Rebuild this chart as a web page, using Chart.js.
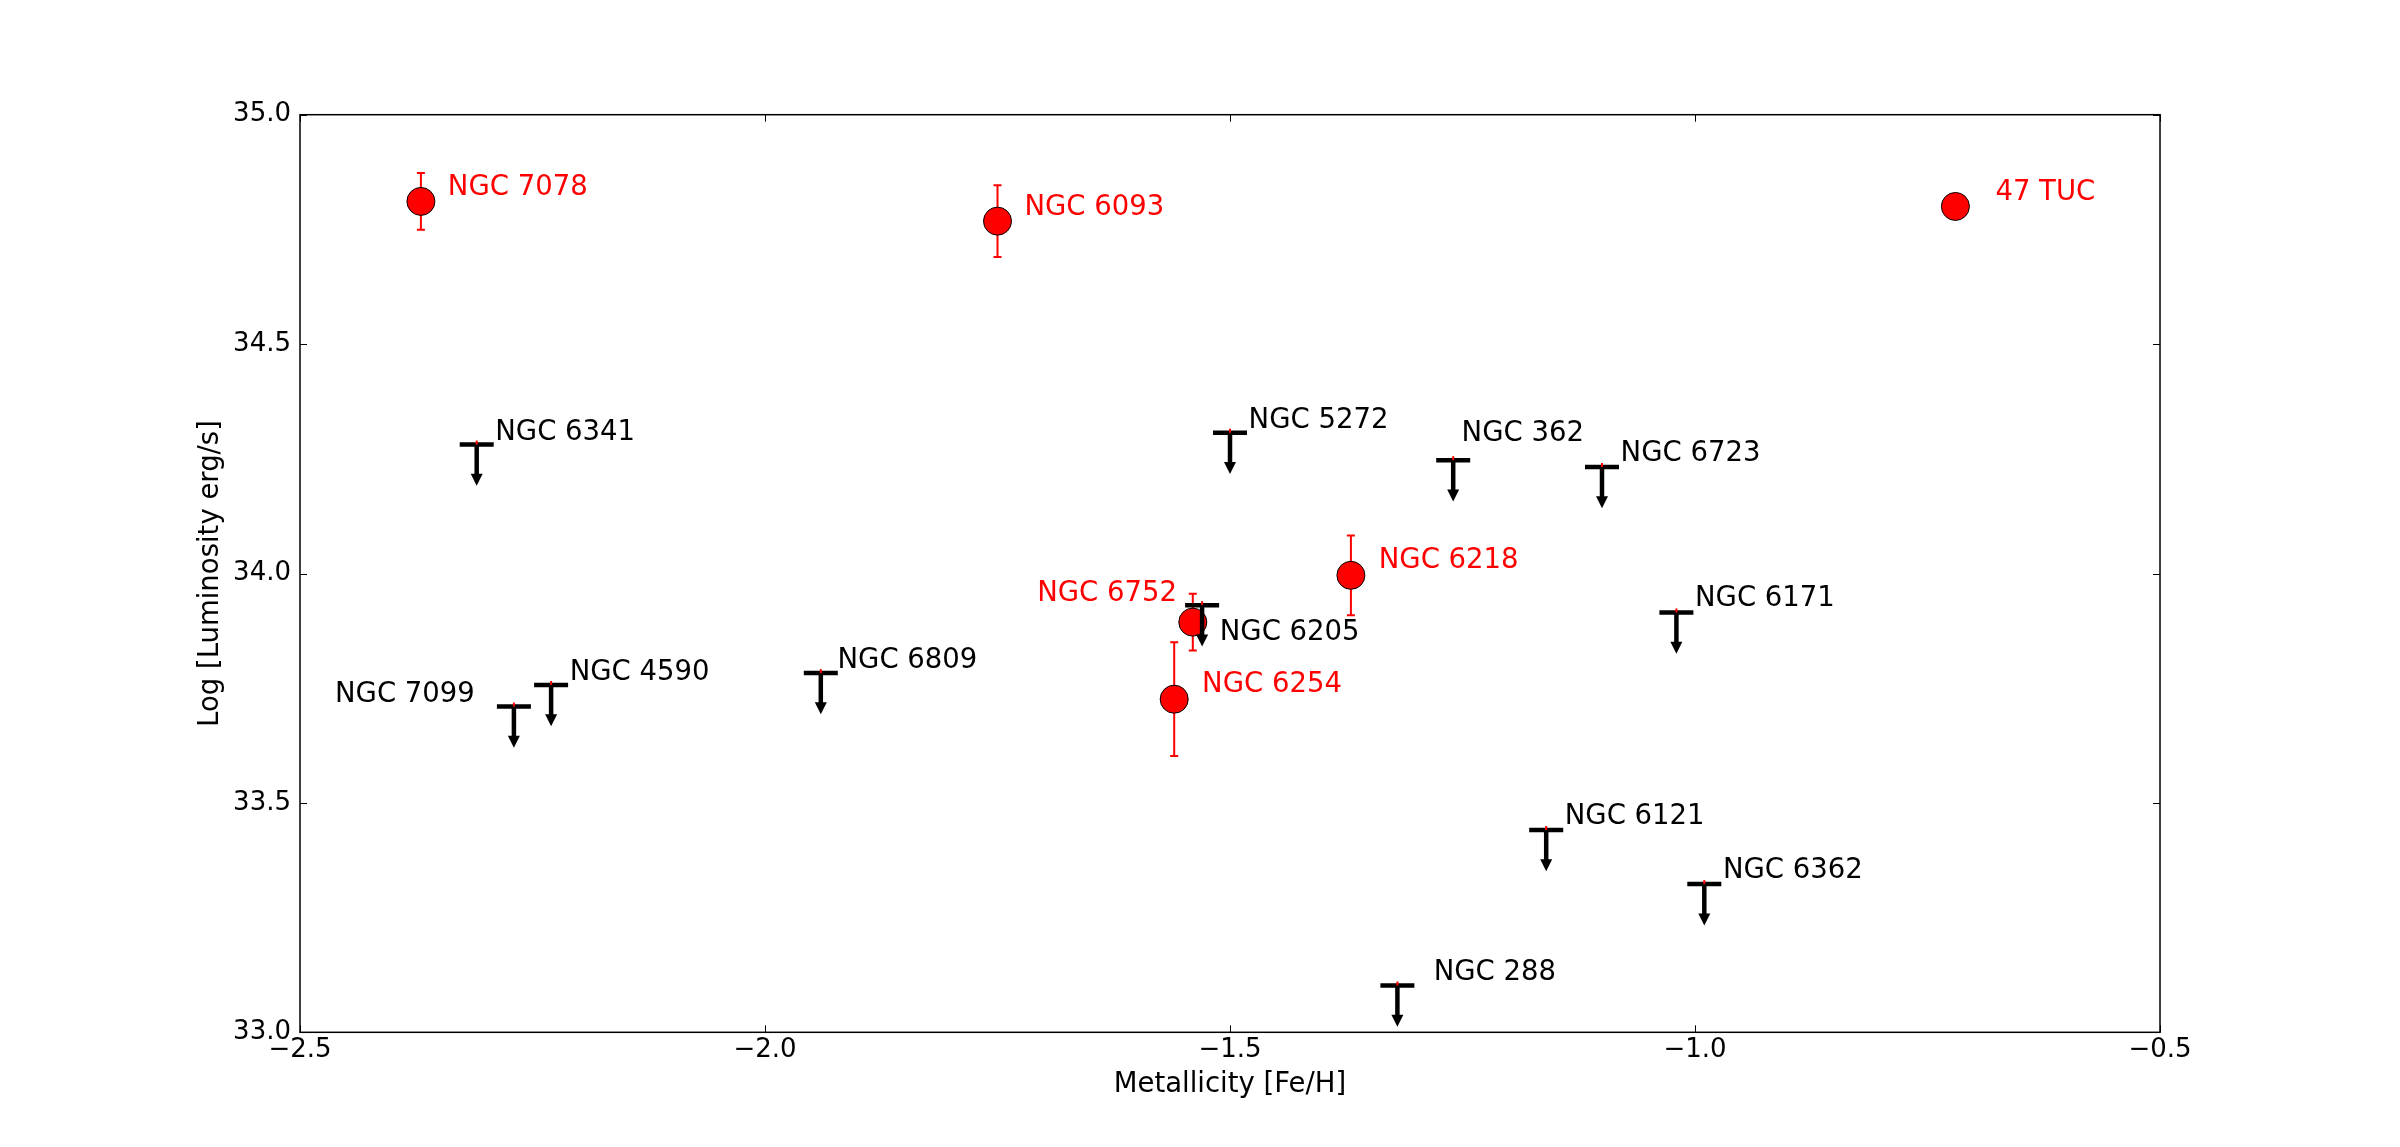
<!DOCTYPE html>
<html>
<head>
<meta charset="utf-8">
<script src="https://cdn.jsdelivr.net/npm/chart.js@4.4.0/dist/chart.umd.min.js"></script>
<style>
  html, body { margin: 0; padding: 0; background: #fff; }
</style>
</head>
<body>
<canvas id="lumChart" width="2400" height="1147"></canvas>
<script>
// detected clusters (red points with error bars)
var detNames = ['NGC 7078', 'NGC 6093', '47 TUC', 'NGC 6218', 'NGC 6752', 'NGC 6254'];
var detFeH = [-2.37, -1.75, -0.72, -1.37, -1.54, -1.56];
var detLum = [34.811, 34.768, 34.80, 33.996, 33.894, 33.726];
var detErr = [0.062, 0.078, 0, 0.087, 0.062, 0.124];
var detLabelX = [-2.341, -1.721, -0.677, -1.340, -1.557, -1.530];
var detLabelY = [34.824, 34.781, 34.813, 34.011, 33.940, 33.741];
var detLabelAlign = ['left', 'left', 'left', 'left', 'right', 'left'];

// upper limits (black caps with arrows)
var limNames = ['NGC 6341', 'NGC 7099', 'NGC 4590', 'NGC 6809', 'NGC 5272', 'NGC 6205',
                'NGC 362', 'NGC 6723', 'NGC 6171', 'NGC 6121', 'NGC 6362', 'NGC 288'];
var limFeH = [-2.31, -2.27, -2.23, -1.94, -1.50, -1.53, -1.26, -1.10, -1.02, -1.16, -0.99, -1.32];
var limLum = [34.281, 33.710, 33.757, 33.783, 34.307, 33.931, 34.247, 34.232, 33.915, 33.441, 33.323, 33.102];
var limLabelX = [-2.290, -2.312, -2.210, -1.922, -1.480, -1.511, -1.251, -1.080, -1.000, -1.140, -0.970, -1.281];
var limLabelY = [34.291, 33.721, 33.768, 33.794, 34.318, 33.855, 34.289, 34.245, 33.929, 33.453, 33.336, 33.114];
var limLabelAlign = ['left', 'right', 'left', 'left', 'left', 'left', 'left', 'left', 'left', 'left', 'left', 'left'];
var arrowLen = 0.09;

// axis ticks
var xTicks = [-2.5, -2.0, -1.5, -1.0, -0.5];
var yTicks = [33.0, 33.5, 34.0, 34.5, 35.0];

var FONT = "'DejaVu Sans', sans-serif";
var fmt = function (v) { return v.toFixed(1).replace('-', '\u2212'); };

// error bars under the red markers, arrows and labels on top
var errorBars = {
    id: 'errorBars',
    beforeDatasetsDraw: function (chart) {
        var ctx = chart.ctx, xs = chart.scales.x, ys = chart.scales.y;
        ctx.save();
        ctx.strokeStyle = '#ff0000';
        ctx.lineWidth = 2;
        for (var i = 0; i < detFeH.length; i++) {
            if (!detErr[i]) continue;
            var x = xs.getPixelForValue(detFeH[i]);
            var y1 = ys.getPixelForValue(detLum[i] + detErr[i]);
            var y2 = ys.getPixelForValue(detLum[i] - detErr[i]);
            ctx.beginPath();
            ctx.moveTo(x, y1); ctx.lineTo(x, y2);
            ctx.moveTo(x - 4, y1); ctx.lineTo(x + 4, y1);
            ctx.moveTo(x - 4, y2); ctx.lineTo(x + 4, y2);
            ctx.stroke();
        }
        ctx.restore();
    },
    afterDatasetsDraw: function (chart) {
        var ctx = chart.ctx, xs = chart.scales.x, ys = chart.scales.y;
        ctx.save();
        for (var i = 0; i < limFeH.length; i++) {
            var x = xs.getPixelForValue(limFeH[i]);
            var y0 = ys.getPixelForValue(limLum[i]);
            var tip = ys.getPixelForValue(limLum[i] - arrowLen);
            ctx.strokeStyle = '#000';
            ctx.lineWidth = 4.5;
            ctx.beginPath();
            ctx.moveTo(x, y0); ctx.lineTo(x, tip - 9);
            ctx.stroke();
            ctx.fillStyle = '#000';
            ctx.beginPath();
            ctx.moveTo(x - 6, tip - 12);
            ctx.lineTo(x + 6, tip - 12);
            ctx.lineTo(x, tip);
            ctx.closePath();
            ctx.fill();
            // tiny red tick over the cap
            ctx.strokeStyle = '#ff0000';
            ctx.lineWidth = 2;
            ctx.beginPath();
            ctx.moveTo(x, y0 - 4); ctx.lineTo(x, y0);
            ctx.stroke();
        }
        ctx.font = '27.5px ' + FONT;
        ctx.textBaseline = 'alphabetic';
        ctx.fillStyle = '#ff0000';
        for (var j = 0; j < detNames.length; j++) {
            ctx.textAlign = detLabelAlign[j];
            ctx.fillText(detNames[j], xs.getPixelForValue(detLabelX[j]), ys.getPixelForValue(detLabelY[j]));
        }
        ctx.fillStyle = '#000';
        for (var k = 0; k < limNames.length; k++) {
            ctx.textAlign = limLabelAlign[k];
            ctx.fillText(limNames[k], xs.getPixelForValue(limLabelX[k]), ys.getPixelForValue(limLabelY[k]));
        }
        ctx.restore();
    }
};

// frame with inward ticks on all sides, matplotlib style
var frameTicks = {
    id: 'frameTicks',
    afterDraw: function (chart) {
        var ctx = chart.ctx, a = chart.chartArea, xs = chart.scales.x, ys = chart.scales.y;
        var len = 7;
        ctx.save();
        ctx.strokeStyle = '#000';
        ctx.lineWidth = 1;
        ctx.beginPath();
        xTicks.forEach(function (v) {
            var x = Math.round(xs.getPixelForValue(v)) + 0.5;
            ctx.moveTo(x, a.bottom); ctx.lineTo(x, a.bottom - len);
            ctx.moveTo(x, a.top); ctx.lineTo(x, a.top + len);
        });
        yTicks.forEach(function (v) {
            var y = Math.round(ys.getPixelForValue(v)) + 0.5;
            ctx.moveTo(a.left, y); ctx.lineTo(a.left + len, y);
            ctx.moveTo(a.right, y); ctx.lineTo(a.right - len, y);
        });
        ctx.stroke();
        ctx.lineWidth = 1.5;
        ctx.strokeRect(a.left, a.top, a.right - a.left, a.bottom - a.top);
        ctx.restore();
    }
};

new Chart(document.getElementById('lumChart'), {
    type: 'scatter',
    data: {
        datasets: [{
            label: 'Upper limits',
            data: limFeH.map(function (x, i) { return {x: x, y: limLum[i]}; }),
            pointStyle: 'line',
            pointRadius: 17,
            pointHoverRadius: 17,
            pointBorderColor: '#000',
            pointBorderWidth: 4.5,
            pointHoverBorderWidth: 4.5,
            order: 0
        }, {
            label: 'Detections',
            data: detFeH.map(function (x, i) { return {x: x, y: detLum[i]}; }),
            pointStyle: 'circle',
            pointRadius: 14,
            pointHoverRadius: 14,
            pointBackgroundColor: '#ff0000',
            pointBorderColor: '#000',
            pointBorderWidth: 1,
            order: 1
        }]
    },
    options: {
        responsive: false,
        animation: false,
        devicePixelRatio: 1,
        layout: { padding: { top: 114.7, right: 240, left: 0, bottom: 0 } },
        plugins: { legend: { display: false }, tooltip: { enabled: false } },
        scales: {
            x: {
                type: 'linear',
                min: -2.5, max: -0.5,
                afterFit: function (s) { s.height = 114.7; },
                afterBuildTicks: function (s) { s.ticks = xTicks.map(function (v) { return {value: v}; }); },
                grid: { display: false, drawTicks: false },
                border: { display: false },
                ticks: {
                    autoSkip: false, maxRotation: 0, padding: 2,
                    color: '#000', font: { family: FONT, size: 26 },
                    callback: function (v) { return fmt(v); }
                },
                title: {
                    display: true, text: 'Metallicity [Fe/H]', color: '#000',
                    font: { family: FONT, size: 27.5 },
                    padding: { top: 0, bottom: 46 }
                }
            },
            y: {
                type: 'linear',
                min: 33, max: 35,
                afterFit: function (s) { s.width = 300; },
                afterBuildTicks: function (s) { s.ticks = yTicks.map(function (v) { return {value: v}; }); },
                grid: { display: false, drawTicks: false },
                border: { display: false },
                ticks: {
                    autoSkip: false, padding: 9,
                    color: '#000', font: { family: FONT, size: 26 },
                    callback: function (v) { return fmt(v); }
                },
                title: {
                    display: true, text: 'Log [Luminosity erg/s]', color: '#000',
                    font: { family: FONT, size: 27.5 },
                    padding: { top: 194, bottom: 0 }
                }
            }
        }
    },
    plugins: [errorBars, frameTicks]
});
</script>
</body>
</html>
